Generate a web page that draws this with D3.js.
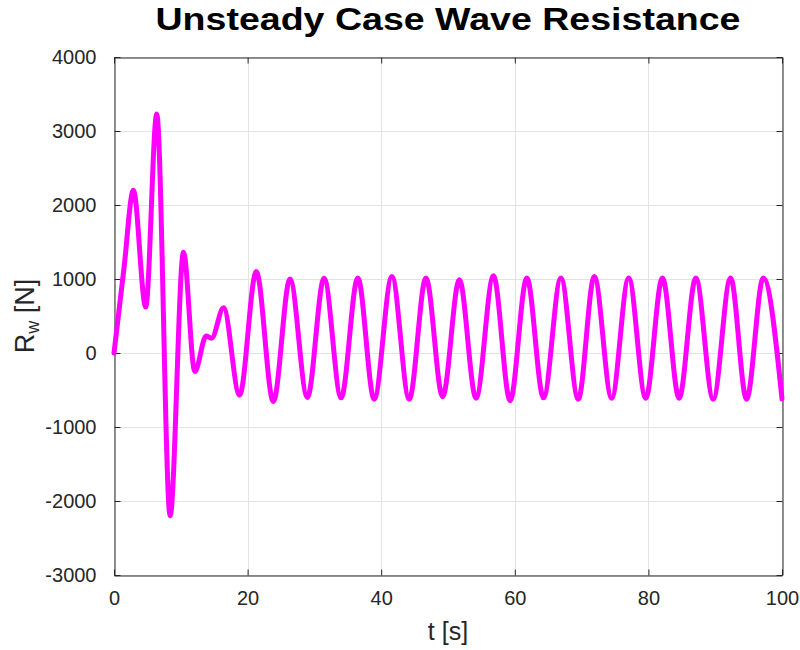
<!DOCTYPE html>
<html>
<head>
<meta charset="utf-8">
<script src="https://cdn.jsdelivr.net/npm/d3@7/dist/d3.min.js"></script>
<style>
  html, body { margin: 0; padding: 0; background: #fff; }
  svg { display: block; }
  text { font-family: "Liberation Sans", Arial, sans-serif; }
</style>
</head>
<body>
<svg id="chart" width="800" height="650"></svg>
<script>
// ---- data ----
const timeS = [0, 1.5, 2.9, 4.75, 6.4, 8.4, 10.4, 12.1, 13.8, 14.6, 16.4, 18.8,
  21.3, 23.85, 26.35, 28.95, 31.45, 34.0, 36.5, 38.95, 41.6, 44.2,
  46.7, 49.2, 51.7, 54.2, 56.8, 59.3, 61.8, 64.3, 66.9, 69.5,
  71.9, 74.5, 77.05, 79.6, 82.1, 84.6, 87.1, 89.7, 92.3, 94.7, 97.2, 100];
const waveResistance = [0, 1150, 2200, 620, 3230, -2200, 1360, -250, 230, 200, 610, -570,
  1100, -655, 1000, -600, 1010, -605, 1015, -625, 1035, -625,
  1015, -590, 990, -610, 1045, -645, 1015, -605, 1015, -625,
  1035, -610, 1015, -610, 1015, -610, 1015, -625, 1015, -625, 1015, -620];
const xTicks = [0, 20, 40, 60, 80, 100];
const yTicks = [-3000, -2000, -1000, 0, 1000, 2000, 3000, 4000];
const titleText = "Unsteady Case Wave Resistance";
const xLabel = "t [s]";

// ---- layout ----
const svg = d3.select("#chart");
const L = 114, R = 782, T = 57, B = 575;
const x = d3.scaleLinear().domain([0, 100]).range([L, R]);
const y = d3.scaleLinear().domain([-3000, 4000]).range([B, T]);
const axisColor = "#262626";
const fmt = d => String(d);

// grid
const grid = svg.append("g");
grid.selectAll("line.gx").data(xTicks).join("line")
  .attr("x1", d => Math.round(x(d)) + 0.5).attr("x2", d => Math.round(x(d)) + 0.5)
  .attr("y1", T).attr("y2", B)
  .attr("stroke", "#e3e3e3").attr("stroke-width", 1);
grid.selectAll("line.gy").data(yTicks).join("line")
  .attr("y1", d => Math.round(y(d)) + 0.5).attr("y2", d => Math.round(y(d)) + 0.5)
  .attr("x1", L).attr("x2", R)
  .attr("stroke", "#e3e3e3").attr("stroke-width", 1);

// axes (inward ticks, mirrored)
const tick = 6;
const xAxisB = d3.axisBottom(x).tickValues(xTicks).tickSize(-tick).tickPadding(15).tickSizeOuter(0).tickFormat(fmt);
const xAxisT = d3.axisTop(x).tickValues(xTicks).tickSize(-tick).tickFormat("").tickSizeOuter(0);
const yAxisL = d3.axisLeft(y).tickValues(yTicks).tickSize(-tick).tickPadding(18).tickSizeOuter(0).tickFormat(fmt);
const yAxisR = d3.axisRight(y).tickValues(yTicks).tickSize(-tick).tickFormat("").tickSizeOuter(0);

function styleAxis(g) {
  g.select(".domain").attr("stroke", axisColor).attr("stroke-width", 1);
  g.selectAll(".tick line").attr("stroke", axisColor);
  g.selectAll(".tick text").attr("fill", axisColor)
    .style("font-family", "'Liberation Sans', Arial, sans-serif").style("font-size", "20px");
}
svg.append("g").attr("transform", `translate(0,${B + 0.5})`).call(xAxisB).call(styleAxis);
svg.append("g").attr("transform", `translate(0,${T + 0.5})`).call(xAxisT).call(styleAxis);
svg.append("g").attr("transform", `translate(${L + 0.5},0)`).call(yAxisL).call(styleAxis);
svg.append("g").attr("transform", `translate(${R + 0.5},0)`).call(yAxisR).call(styleAxis);

// line
const pts = timeS.map((t, i) => [t, waveResistance[i]]);
const line = d3.line().x(d => x(d[0])).y(d => y(d[1])).curve(d3.curveMonotoneX);
svg.append("path").datum(pts)
  .attr("d", line)
  .attr("fill", "none").attr("stroke", "#ff00ff")
  .attr("stroke-width", 5).attr("stroke-linejoin", "round").attr("stroke-linecap", "round");

// title
svg.append("text")
  .attr("x", (L + R) / 2).attr("y", 30)
  .attr("text-anchor", "middle")
  .attr("font-weight", "bold").attr("font-size", 32)
  .attr("textLength", 585).attr("lengthAdjust", "spacingAndGlyphs")
  .attr("fill", "#000")
  .text(titleText);

// x label
svg.append("text")
  .attr("x", (L + R) / 2).attr("y", 640)
  .attr("text-anchor", "middle").attr("font-size", 25)
  .attr("fill", axisColor)
  .text(xLabel);

// y label with subscript
const yl = svg.append("text")
  .attr("transform", `translate(34,${(T + B) / 2}) rotate(-90)`)
  .attr("text-anchor", "middle").attr("font-size", 27)
  .attr("fill", axisColor);
yl.append("tspan").text("R");
yl.append("tspan").attr("font-size", 18).attr("dy", 5).text("w");
yl.append("tspan").attr("dy", -5).text(" [N]");
</script>
</body>
</html>
